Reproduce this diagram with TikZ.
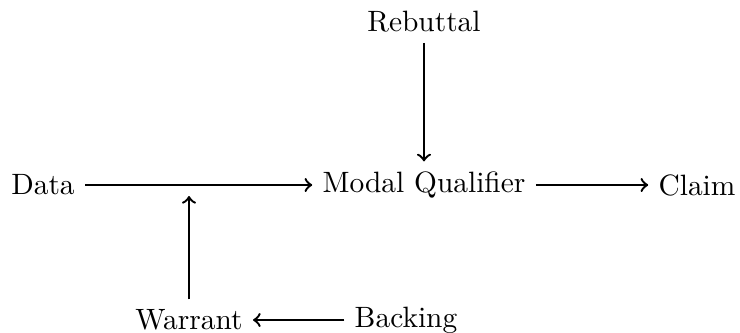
\documentclass[tikz,border=0pt]{standalone}
\begin{document}
\begin{tikzpicture}[x=0.01195cm,y=-0.01195cm,
  lbl/.style={inner sep=0.333em},
  conn/.style={->,thick}]
\useasboundingbox (0,0) rectangle (740,332);
\node[lbl] (data) at (43,185) {Data};
\node[lbl] (mq) at (424,185) {Modal Qualifier};
\node[lbl] (claim) at (697,185) {Claim};
\node[lbl] (reb) at (424,22) {Rebuttal};
\node[lbl] (war) at (189,320) {Warrant};
\node[lbl] (back) at (406,320) {Backing};
\coordinate (j) at (189,196);
\draw[conn] (data) -- (mq);
\draw[conn] (mq) -- (claim);
\draw[conn] (reb) -- (mq);
\draw[conn] (war) -- (j);
\draw[conn] (back) -- (war);
\end{tikzpicture}
\end{document}
